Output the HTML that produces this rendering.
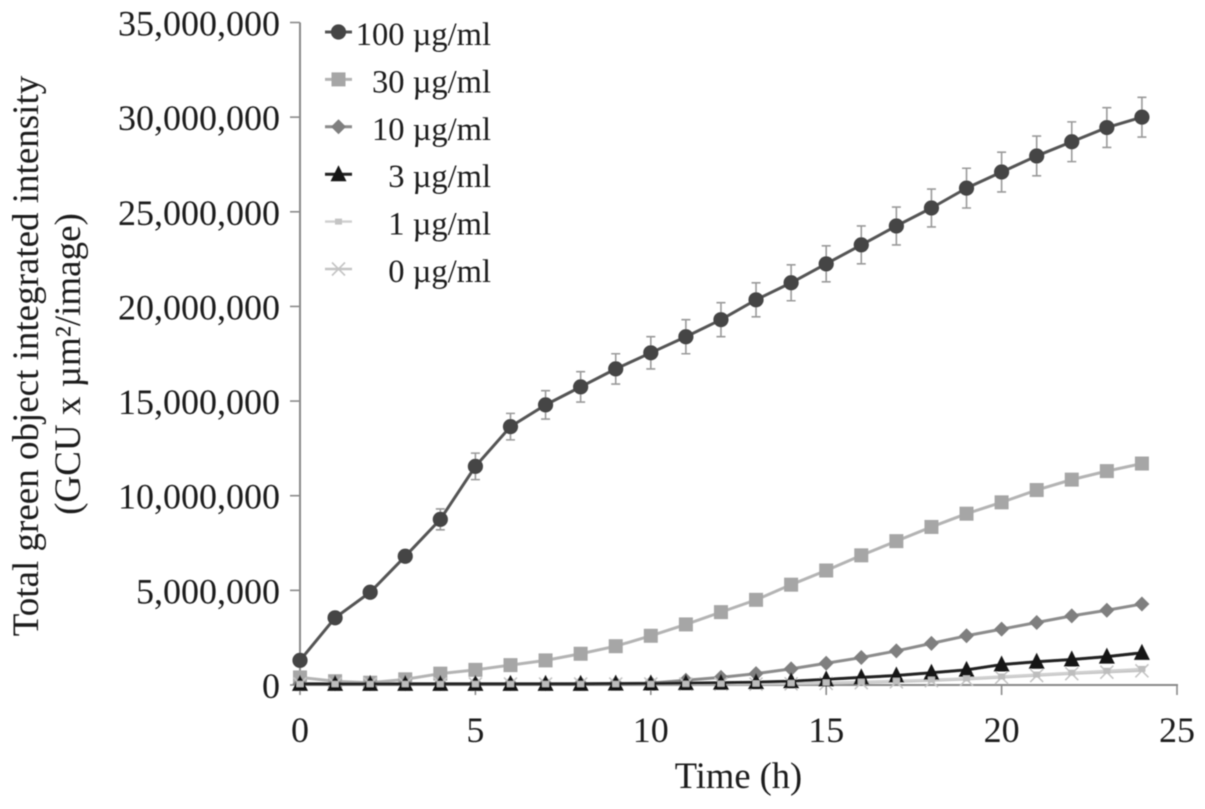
<!DOCTYPE html>
<html lang="en">
<head>
<meta charset="utf-8">
<title>Total green object integrated intensity over time</title>
<style>
html,body{margin:0;padding:0;background:#fff;}
#chart{display:block;width:1205px;height:809px;}
text{font-family:"Liberation Serif",serif;fill:#1e1e1e;}
</style>
</head>
<body>
<svg id="chart" xmlns="http://www.w3.org/2000/svg" width="1205" height="809" viewBox="0 0 1205 809">
<defs><filter id="soft" x="-5%" y="-5%" width="110%" height="110%"><feGaussianBlur stdDeviation="0.6"/></filter></defs>
<g id="root" filter="url(#soft)"></g>
</svg>
<script>
const times = [0,1,2,3,4,5,6,7,8,9,10,11,12,13,14,15,16,17,18,19,20,21,22,23,24];
const xTicks = [0,5,10,15,20,25];
const yTicks = [0,5000000,10000000,15000000,20000000,25000000,30000000,35000000];
const yTickLabels = ["0","5,000,000","10,000,000","15,000,000","20,000,000","25,000,000","30,000,000","35,000,000"];
const series100 = [1300000,3550000,4900000,6800000,8750000,11550000,13650000,14800000,15750000,16700000,17550000,18400000,19300000,20350000,21250000,22250000,23250000,24250000,25200000,26250000,27100000,27950000,28700000,29450000,30000000];
const errors100 = [100000,150000,200000,300000,550000,700000,700000,750000,800000,800000,850000,900000,900000,900000,950000,950000,1000000,1000000,1000000,1050000,1050000,1050000,1050000,1050000,1050000];
const series30 = [400000,200000,120000,300000,600000,800000,1050000,1300000,1650000,2050000,2600000,3200000,3850000,4500000,5300000,6050000,6850000,7600000,8350000,9050000,9650000,10300000,10850000,11300000,11700000];
const series10 = [60000,60000,60000,60000,60000,60000,60000,60000,70000,80000,100000,250000,400000,600000,850000,1150000,1450000,1800000,2200000,2600000,2950000,3300000,3650000,3950000,4280000];
const series3 = [60000,60000,60000,60000,60000,60000,60000,60000,60000,70000,80000,100000,120000,150000,200000,300000,400000,500000,650000,800000,1080000,1230000,1350000,1500000,1700000];
const series1 = [50000,50000,50000,50000,50000,50000,50000,50000,50000,50000,50000,60000,70000,80000,100000,130000,170000,220000,280000,350000,450000,550000,650000,750000,850000];
const series0 = [50000,50000,50000,50000,50000,50000,50000,50000,50000,50000,50000,50000,50000,50000,60000,80000,120000,170000,230000,300000,400000,500000,600000,680000,750000];
const legendLabels = ["100 µg/ml","30 µg/ml","10 µg/ml","3 µg/ml","1 µg/ml","0 µg/ml"];

const NS = "http://www.w3.org/2000/svg";
const root = document.getElementById("root");
const xScale = function(v){ return 300 + v * (1177 - 300) / 25; };
const yScale = function(v){ return 685 - v * (685 - 22.5) / 35000000; };

function make(tag, attrs, parent){
  const el = document.createElementNS(NS, tag);
  for (const k in attrs) el.setAttribute(k, attrs[k]);
  (parent || root).appendChild(el);
  return el;
}

function marker(kind, cx, cy, color, parent){
  if (kind === "circle") make("circle",{cx:cx,cy:cy,r:7.6,fill:color},parent);
  if (kind === "square") make("rect",{x:cx-7,y:cy-7,width:14,height:14,fill:color},parent);
  if (kind === "diamond") make("polygon",{points:[cx,cy-7.5,cx+7.5,cy,cx,cy+7.5,cx-7.5,cy].join(","),fill:color},parent);
  if (kind === "triangle") make("polygon",{points:[cx,cy-9,cx+8,cy+7,cx-8,cy+7].join(","),fill:color},parent);
  if (kind === "dot") make("rect",{x:cx-3.5,y:cy-3,width:7,height:6,fill:color},parent);
  if (kind === "cross") make("path",{d:"M"+(cx-6.5)+" "+(cy-6.5)+"L"+(cx+6.5)+" "+(cy+6.5)+"M"+(cx-6.5)+" "+(cy+6.5)+"L"+(cx+6.5)+" "+(cy-6.5),stroke:color,"stroke-width":1.6,fill:"none"},parent);
}

/* axes */
const axes = make("g",{});


const yAxisLine = make("line",{x1:300,y1:yScale(35000000),x2:300,y2:685,stroke:"#8a8a8a","stroke-width":2},axes);


const xAxisLine = make("line",{x1:299,y1:685,x2:1178,y2:685,stroke:"#8a8a8a","stroke-width":2},axes);



yTicks.forEach(function(v,i){
  const y = yScale(v);
  const tick = make("line",{x1:290,y1:y,x2:300,y2:y,stroke:"#8a8a8a","stroke-width":1.6},axes);
  
  
  const label = make("text",{x:280,y:y+13,"text-anchor":"end","font-size":36},axes);
  
  
  label.textContent = yTickLabels[i];
});
xTicks.forEach(function(v){
  const x = xScale(v);
  const tick = make("line",{x1:x,y1:685,x2:x,y2:695,stroke:"#8a8a8a","stroke-width":1.6},axes);
  
  
  const label = make("text",{x:x,y:742,"text-anchor":"middle","font-size":36},axes);
  
  
  label.textContent = String(v);
});

const xTitle = make("text",{x:738.5,y:788,"text-anchor":"middle","font-size":36.5});


xTitle.textContent = "Time (h)";

const yTitle1 = make("text",{transform:"translate(38,356) rotate(-90)","text-anchor":"middle","font-size":37});


yTitle1.textContent = "Total green object integrated intensity";
const yTitle2 = make("text",{transform:"translate(80,364) rotate(-90)","text-anchor":"middle","font-size":37});


yTitle2.textContent = "(GCU x µm²/image)";

/* error bars of the 100 µg/ml series */
const errGroup = make("g",{});


times.forEach(function(t,i){
  const x = xScale(t);
  const top = yScale(series100[i] + errors100[i]);
  const bot = yScale(series100[i] - errors100[i]);
  const bar = make("path",{d:"M"+x+" "+top+"V"+bot+"M"+(x-4.5)+" "+top+"H"+(x+4.5)+"M"+(x-4.5)+" "+bot+"H"+(x+4.5),stroke:"#9a9a9a","stroke-width":1.6,fill:"none"},errGroup);
  
  
});

/* series, back to front: the 1 µg/ml markers sit above the triangles */
const drawn = [
  {key:"100", values:series100, color:"#444444", line:"#555555", width:3, kind:"circle", legend:0},
  {key:"30", values:series30, color:"#a6a6a6", line:"#b4b4b4", width:3, kind:"square", legend:1},
  {key:"10", values:series10, color:"#7f7f7f", line:"#8c8c8c", width:3, kind:"diamond", legend:2},
  {key:"0", values:series0, color:"#c4c4c4", line:"#c4c4c4", width:2.4, kind:"cross", legend:5},
  {key:"1", values:series1, color:"#c4c4c4", line:"#d0d0d0", width:2.4, kind:"dot", legend:4, markersLast:true},
  {key:"3", values:series3, color:"#161616", line:"#222222", width:3, kind:"triangle", legend:3}
];
drawn.forEach(function(s){
  const g = make("g",{});
  
  
  const pts = times.map(function(t,i){ return xScale(t) + "," + yScale(s.values[i]); }).join(" ");
  const line = make("polyline",{points:pts,fill:"none",stroke:s.line,"stroke-width":s.width,"stroke-linejoin":"round"},g);
  
  
  if (!s.markersLast) times.forEach(function(t,i){ marker(s.kind, xScale(t), yScale(s.values[i]), s.color, g); });
});
const dotGroup = make("g",{});


times.forEach(function(t,i){ marker("dot", xScale(t), yScale(series1[i]), "#bdbdbd", dotGroup); });

/* legend */
const legendGroup = make("g",{});


drawn.slice().sort(function(a,b){ return a.legend - b.legend; }).forEach(function(s){
  const y = 32 + s.legend * 47.4;
  const entry = make("g",{},legendGroup);
  
  
  make("line",{x1:325,y1:y,x2:352,y2:y,stroke:s.line,"stroke-width":s.width},entry);
  marker(s.kind, 338.5, y, s.color, entry);
  const label = make("text",{x:491,y:y+13,"text-anchor":"end","font-size":32.5},entry);
  
  
  label.textContent = legendLabels[s.legend];
});
</script>
</body>
</html>
